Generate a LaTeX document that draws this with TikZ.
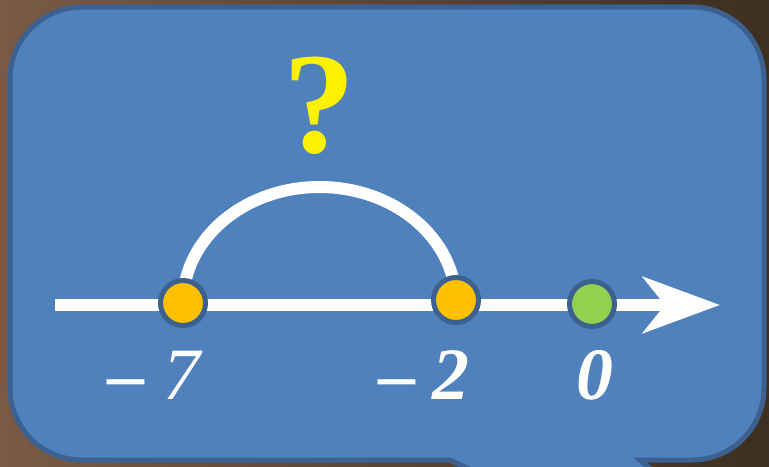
\documentclass[tikz,border=0pt]{standalone}
\usepackage{fontspec}
\setmainfont{Liberation Serif}
\usetikzlibrary{arrows.meta,positioning}

\definecolor{bubblefill}{HTML}{4F81BD}
\definecolor{bubbleline}{HTML}{3C6190}
\definecolor{dotorange}{HTML}{FFC000}
\definecolor{dotgreen}{HTML}{92D050}
\definecolor{woodlight}{HTML}{7A5A44}
\definecolor{wooddark}{HTML}{2E2418}

\begin{document}
\begin{tikzpicture}[x=0.01cm,y=0.01cm,
    axis/.style={line width=0.12cm,white},
    bubble/.style={fill=bubblefill,draw=bubbleline,line width=0.05cm},
    dot/.style={circle,draw=bubbleline,line width=0.05cm,inner sep=0pt,minimum size=0.45cm},
    num/.style={white,font=\fontsize{21}{21}\selectfont}]
  \useasboundingbox (0,0) rectangle (769,466);
  \clip (0,0) rectangle (769,466);
  % background
  \shade[left color=woodlight,right color=wooddark!80!woodlight] (0,0) rectangle (769,466);
  % speech bubble with tail
  \draw[bubble] (450,6) -- (82,6) arc[start angle=270,end angle=180,radius=72]
    -- (10,387) arc[start angle=180,end angle=90,radius=72]
    -- (692,459) arc[start angle=90,end angle=0,radius=72]
    -- (764,78) arc[start angle=0,end angle=-90,radius=72]
    -- (640,6) -- (672,-20) -- (505,-20) -- cycle;
  % number line
  \coordinate (start) at (55,161);
  \coordinate (tip) at (720,161);
  \draw[axis,-{Stealth[length=0.77cm,width=0.56cm,inset=0.22cm]}] (start) -- (tip);
  % points
  \coordinate (c7) at (183,163);
  \draw[axis] (c7) arc[start angle=180,end angle=0,x radius=136.5,y radius=116];
  \node[dot,fill=dotorange] (m7) at (c7) {};
  \node[dot,fill=dotorange] (m2) at (456,166) {};
  \node[dot,fill=dotgreen] (m0) at (592,162) {};
  % labels
  \node[num] (l7) at (155,91) {\textbf{–}\ \textit{7}};
  \node[num] (l2) at (424,91) {\textbf{–}\:\textbf{\textit{2}}};
  \node[num] (l0) at (595,91) {\textbf{\textit{0}}};
  \node[yellow,font=\fontsize{41}{41}\selectfont\bfseries] (q) at (320,360) {?};
\end{tikzpicture}
\end{document}
